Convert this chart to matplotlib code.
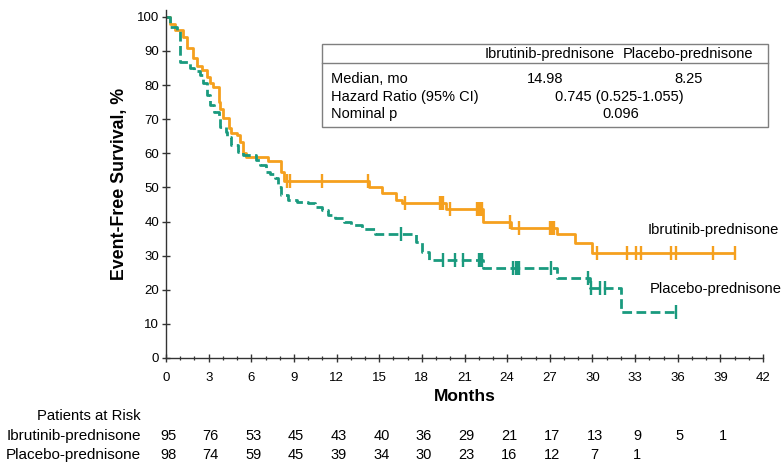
import numpy as np
import matplotlib
matplotlib.use("Agg")
import matplotlib.pyplot as plt
from matplotlib.patches import Rectangle
from matplotlib.lines import Line2D

# ---------------- data ----------------
ibr_times = [0, 0.3, 0.6, 1.2, 1.5, 1.9, 2.2, 2.5, 2.9, 3.1, 3.3, 3.7, 3.8, 4.0, 4.4, 4.6,
             5.0, 5.2, 5.4, 5.6, 7.2, 8.1, 8.3, 14.3, 15.2, 16.2, 16.6, 19.7, 22.3, 24.3,
             27.5, 28.8, 29.95]
ibr_surv = [100, 98, 96, 94, 91, 88, 85.5, 84.5, 82.4, 80.6, 79.3, 75, 73, 70.4, 67.4, 66,
            65.4, 63.3, 60.1, 59, 57.6, 54.5, 51.8, 50, 48.4, 46.3, 45.5, 43.6, 40, 38.1,
            36.4, 33.7, 30.9]
ibr_end = 40.0
ibr_censor = [8.5, 8.7, 11.0, 14.2, 16.8, 19.3, 19.4, 19.5, 20.0, 21.9, 22.0, 22.1, 22.2,
              24.2, 24.8, 27.0, 27.1, 27.2, 27.3, 30.3, 32.4, 33.1, 33.4, 35.5, 35.9, 38.5, 40.0]

pla_times = [0, 0.3, 0.8, 1.0, 1.7, 2.0, 2.4, 2.6, 2.9, 3.1, 3.4, 3.7, 3.8, 4.2, 4.3, 4.6,
             5.1, 5.4, 6.3, 6.6, 7.0, 7.3, 7.7, 7.9, 8.1, 8.6, 9.2, 10.0, 10.5, 11.0, 11.4,
             11.9, 12.5, 13.0, 13.8, 14.7, 17.6, 18.0, 18.5, 22.3, 27.5, 29.8, 32.0]
pla_surv = [100, 97, 96, 86.8, 85, 84, 83, 80.6, 77, 74.2, 72, 70.4, 67.7, 66.3, 64.8, 62.5,
            60.4, 59.5, 58, 56.6, 54.6, 54, 52.8, 50.2, 47.8, 46.3, 45.8, 45.3, 44.4, 43.4,
            41.9, 41, 40, 39, 37.9, 36.3, 34, 31, 28.7, 26.5, 23.4, 20.5, 13.5]
pla_end = 35.9
pla_censor = [16.5, 19.5, 20.3, 20.9, 22.0, 22.1, 22.2, 24.4, 24.6, 24.7, 24.8, 27.1, 29.7,
              29.9, 30.5, 30.9, 35.9]

risk_times = [0, 3, 6, 9, 12, 15, 18, 21, 24, 27, 30, 33, 36, 39]
risk_ibr = [95, 76, 53, 45, 43, 40, 36, 29, 21, 17, 13, 9, 5, 1]
risk_pla = [98, 74, 59, 45, 39, 34, 30, 23, 16, 12, 7, 1]

groups = ["Ibrutinib-prednisone", "Placebo-prednisone"]
table_rows = ["Median, mo", "Hazard Ratio (95% CI)", "Nominal p"]
median_vals = ["14.98", "8.25"]
hr_text = "0.745 (0.525-1.055)"
p_text = "0.096"

# ---------------- style ----------------
ORANGE = "#F5A01E"
GREEN = "#1A9A7E"
plt.rcParams['font.family'] = ['Liberation Sans', 'DejaVu Sans']

W, H = 781, 466
fig = plt.figure(figsize=(W / 100, H / 100), dpi=100)

def fx(px):
    return px / W

def fy(py):
    return 1 - py / H

ax = fig.add_axes([fx(166), fy(358), fx(763) - fx(166), fy(10) - fy(358)])
ax.set_xlim(0, 42)
ax.set_ylim(0, 102)

def step_val(times, surv, t):
    idx = np.searchsorted(times, t, side='right') - 1
    return surv[max(idx, 0)]

def draw_curve(times, surv, end, censor, color, ls):
    tt = list(times) + [end]
    ss = list(surv) + [surv[-1]]
    ax.step(tt, ss, where='post', color=color, lw=2.0, linestyle=ls,
            solid_capstyle='butt', dash_capstyle='butt')
    cy = [step_val(times, surv, c) for c in censor]
    ax.plot(censor, cy, linestyle='none', marker='|', markersize=9.5,
            markeredgewidth=1.7, color=color)

draw_curve(ibr_times, ibr_surv, ibr_end, ibr_censor, ORANGE, '-')
draw_curve(pla_times, pla_surv, pla_end, pla_censor, GREEN, (0, (3.5, 1.6)))

for s in ['top', 'right']:
    ax.spines[s].set_visible(False)
for s in ['left', 'bottom']:
    ax.spines[s].set_color('#333333')
    ax.spines[s].set_linewidth(1.0)

ax.set_xticks(np.arange(0, 43, 3))
ax.set_xticks(np.arange(0, 43, 1), minor=True)
ax.set_yticks(np.arange(0, 101, 10))
ax.tick_params(axis='both', which='major', direction='inout', length=6, width=1.0,
               labelsize=9.5, colors='#333333', labelcolor='black')
ax.tick_params(axis='x', which='major', pad=7)
ax.tick_params(axis='y', which='major', pad=2)
ax.tick_params(axis='x', which='minor', direction='inout', length=3.5, width=0.9,
               colors='#333333')

ax.set_xlabel("Months", fontsize=12.5, fontweight='bold', labelpad=4)
ax.set_ylabel("Event-Free Survival, %", fontsize=12.8, fontweight='bold', labelpad=6)

# ---------------- stats box ----------------
box = Rectangle((fx(322), fy(127)), fx(768) - fx(322), fy(44) - fy(127),
                transform=fig.transFigure, fill=True, facecolor='white',
                edgecolor='#7f7f7f', linewidth=1.0, zorder=5)
fig.add_artist(box)
fig.add_artist(Line2D([fx(322), fx(768)], [fy(62.5), fy(62.5)],
                      transform=fig.transFigure, color='#7f7f7f', lw=1.0, zorder=6))
tkw = dict(fontsize=10.5, va='center', zorder=7)
fig.text(fx(550), fy(54), groups[0], ha='center', **tkw)
fig.text(fx(688), fy(54), groups[1], ha='center', **tkw)
row_y = [79, 97, 114]
for r, yy in zip(table_rows, row_y):
    fig.text(fx(331), fy(yy), r, ha='left', **tkw)
fig.text(fx(545), fy(row_y[0]), median_vals[0], ha='center', **tkw)
fig.text(fx(689), fy(row_y[0]), median_vals[1], ha='center', **tkw)
fig.text(fx(619), fy(row_y[1]), hr_text, ha='center', **tkw)
fig.text(fx(621), fy(row_y[2]), p_text, ha='center', **tkw)

# ---------------- curve labels ----------------
fig.text(fx(648), fy(230), groups[0], ha='left', va='center', fontsize=10.6)
fig.text(fx(650), fy(289), groups[1], ha='left', va='center', fontsize=10.6)

# ---------------- patients at risk ----------------
trans = matplotlib.transforms.blended_transform_factory(ax.transData, fig.transFigure)
fig.text(fx(141), fy(416), "Patients at Risk", ha='right', va='center', fontsize=10.7)
fig.text(fx(141), fy(436), groups[0], ha='right', va='center', fontsize=11)
fig.text(fx(141), fy(455), groups[1], ha='right', va='center', fontsize=11)
for t, n in zip(risk_times, risk_ibr):
    ax.text(t + 0.15, fy(436), str(n), transform=trans, ha='center', va='center',
            fontsize=10.5, clip_on=False)
for t, n in zip(risk_times, risk_pla):
    ax.text(t + 0.15, fy(455), str(n), transform=trans, ha='center', va='center',
            fontsize=10.5, clip_on=False)

fig.savefig("out.png", dpi=100)
